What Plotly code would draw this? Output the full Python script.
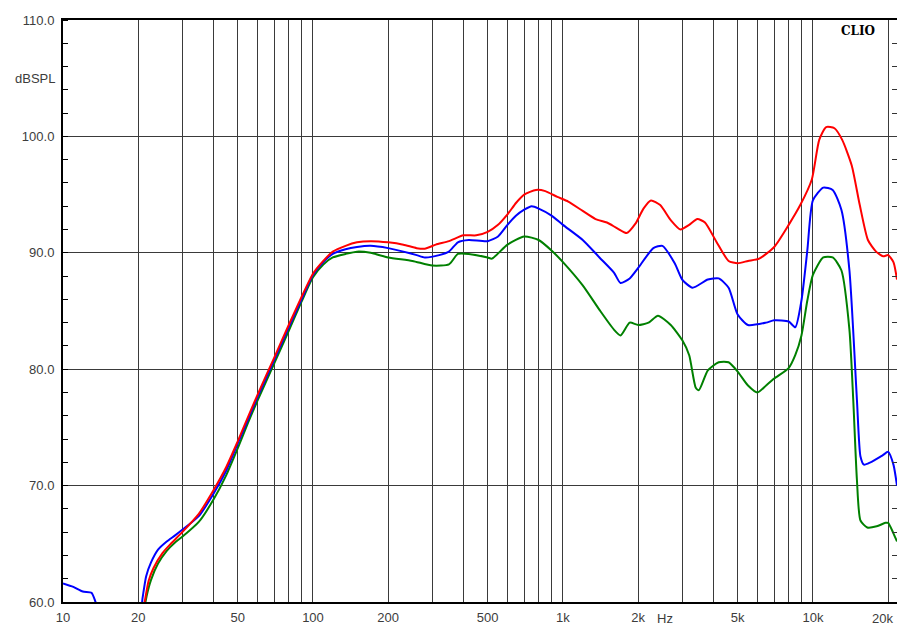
import plotly.graph_objects as go
import numpy as np

# ---- data ----
red_f = [20.5, 21.3, 22, 23, 25, 27, 30, 35, 40, 45, 50, 55, 60, 70, 80, 90, 100, 110, 120, 135, 150, 170, 200, 230, 260, 280, 310, 350, 400, 450, 500, 550, 600, 650, 700, 780, 850, 950, 1050, 1200, 1350, 1500, 1650, 1800, 1950, 2100, 2250, 2450, 2700, 2950, 3200, 3450, 3700, 4100, 4600, 5000, 5500, 6100, 7000, 8000, 8900, 9900, 10600, 11300, 12200, 13100, 14300, 15400, 16600, 17900, 19100, 20000, 21000, 21700]
red_db = [58.0, 60.2, 61.8, 62.9, 64.2, 65.0, 66.0, 67.6, 69.6, 71.6, 73.8, 75.9, 77.8, 81.0, 83.8, 86.2, 88.2, 89.3, 90.1, 90.6, 90.9, 91.0, 90.9, 90.7, 90.4, 90.35, 90.7, 91.0, 91.5, 91.5, 91.8, 92.4, 93.3, 94.3, 95.0, 95.4, 95.3, 94.8, 94.4, 93.6, 92.9, 92.6, 92.1, 91.7, 92.5, 93.8, 94.5, 94.1, 92.8, 92.0, 92.4, 92.9, 92.6, 91.0, 89.3, 89.1, 89.3, 89.5, 90.5, 92.4, 94.1, 96.3, 99.7, 100.8, 100.7, 99.7, 97.5, 94.1, 91.1, 90.1, 89.7, 89.8, 89.2, 87.7]

blue_f = [10, 11, 12, 13, 13.5, 14.5, 20.0, 20.8, 21.5, 22.5, 24, 26, 28, 30, 35, 40, 45, 50, 55, 60, 70, 80, 90, 100, 110, 120, 135, 150, 170, 200, 230, 260, 280, 320, 350, 380, 420, 500, 550, 600, 650, 700, 750, 800, 900, 1000, 1200, 1400, 1600, 1700, 1850, 2000, 2300, 2500, 2800, 3000, 3300, 3800, 4200, 4600, 5000, 5500, 6500, 7000, 8000, 8500, 9000, 9500, 10000, 11000, 12000, 13000, 14000, 15000, 15500, 16000, 17000, 19000, 20000, 21000, 21700]
blue_db = [61.6, 61.3, 60.9, 60.8, 60.0, 58.0, 58.0, 60.3, 62.2, 63.4, 64.5, 65.2, 65.7, 66.2, 67.4, 69.3, 71.3, 73.6, 75.7, 77.6, 80.8, 83.6, 86.0, 88.1, 89.2, 89.9, 90.3, 90.5, 90.6, 90.4, 90.1, 89.8, 89.6, 89.8, 90.1, 90.9, 91.1, 91.0, 91.4, 92.4, 93.2, 93.7, 94.0, 93.8, 93.2, 92.4, 91.1, 89.6, 88.3, 87.4, 87.8, 88.7, 90.4, 90.6, 89.1, 87.7, 87.0, 87.7, 87.8, 87.0, 84.7, 83.8, 84.0, 84.2, 84.1, 83.6, 85.9, 90.2, 94.5, 95.6, 95.4, 93.7, 88.5, 77.4, 72.5, 71.8, 72.0, 72.6, 72.9, 71.8, 70.0]

green_f = [20.8, 21.6, 22.5, 24, 26, 28, 30, 35, 40, 45, 50, 55, 60, 70, 80, 90, 100, 110, 120, 135, 150, 170, 200, 250, 300, 350, 380, 420, 500, 520, 600, 700, 800, 900, 1000, 1200, 1400, 1600, 1700, 1850, 2000, 2200, 2400, 2700, 3000, 3200, 3400, 3500, 3800, 4200, 4600, 5000, 5500, 6000, 6500, 7000, 8000, 8500, 9000, 9500, 10000, 11000, 12000, 13000, 14000, 14500, 15000, 15500, 16500, 18000, 19500, 20000, 21000, 21700]
green_db = [58.5, 60.5, 61.9, 63.3, 64.4, 65.1, 65.6, 66.9, 68.8, 70.9, 73.2, 75.4, 77.3, 80.5, 83.3, 85.8, 87.9, 89.0, 89.6, 89.9, 90.1, 90.0, 89.6, 89.3, 88.9, 89.0, 89.9, 89.9, 89.6, 89.5, 90.7, 91.4, 91.1, 90.2, 89.2, 87.2, 85.1, 83.4, 82.9, 84.0, 83.8, 84.0, 84.6, 83.8, 82.5, 81.2, 78.4, 78.2, 79.9, 80.6, 80.6, 79.8, 78.6, 78.0, 78.6, 79.2, 80.1, 81.2, 82.9, 85.9, 88.1, 89.6, 89.6, 88.5, 83.4, 77.4, 70.5, 67.0, 66.4, 66.5, 66.8, 66.8, 65.9, 65.2]

grid_freqs = [10, 20, 30, 40, 50, 60, 70, 80, 90, 100, 200, 300, 400, 500, 600, 700, 800, 900,
              1000, 2000, 3000, 4000, 5000, 6000, 7000, 8000, 9000, 10000, 20000]
x_labels = {10: "10", 20: "20", 50: "50", 100: "100", 200: "200", 500: "500", 1000: "1k",
            2000: "2k", 5000: "5k", 10000: "10k"}
y_ticks = [60, 70, 80, 90, 100, 110]
y_labels = ["60.0", "70.0", "80.0", "90.0", "100.0", "110.0"]

fig = go.Figure()
for f, d, c in [(green_f, green_db, "#008000"), (blue_f, blue_db, "#0000ff"), (red_f, red_db, "#ff0000")]:
    fig.add_trace(go.Scatter(x=f, y=d, mode="lines", line=dict(color=c, width=2, shape="spline", smoothing=0.6),
                             showlegend=False, hoverinfo="skip"))

fig.update_layout(
    width=898, height=626,
    margin=dict(l=63, r=1, t=20, b=24, autoexpand=False),
    paper_bgcolor="white", plot_bgcolor="white",
    font=dict(family="Liberation Sans, Arial, sans-serif", size=13, color="#3c3c3c"),
    xaxis=dict(type="log", range=[1, np.log10(21700)],
               tickvals=grid_freqs, ticktext=[x_labels.get(v, "") for v in grid_freqs],
               showgrid=True, gridcolor="#3a3a3a", gridwidth=1,
               showline=True, linecolor="black", linewidth=2, mirror=True,
               ticks="", zeroline=False, ticklabelstandoff=2, automargin=False),
    yaxis=dict(range=[60, 110], tickvals=y_ticks, ticktext=y_labels,
               showgrid=True, gridcolor="#3a3a3a", gridwidth=1,
               showline=True, linecolor="black", linewidth=2,
               ticks="", zeroline=False, ticklabelstandoff=4, automargin=False,
               minor=dict(dtick=2, ticks="inside", ticklen=5, tickcolor="black", showgrid=False)),
    yaxis2=dict(range=[60, 110], overlaying="y", side="right", showgrid=False, showline=False,
                showticklabels=False, ticks="", zeroline=False, automargin=False,
                minor=dict(dtick=2, ticks="inside", ticklen=5, tickcolor="#333", showgrid=False)),
)
fig.add_trace(go.Scatter(x=[10], y=[None], yaxis="y2", showlegend=False, hoverinfo="skip"))

fig.add_annotation(xref="paper", yref="y", x=-0.007, y=105, text="dBSPL", showarrow=False,
                   xanchor="right", yanchor="middle", font=dict(size=13, color="#3c3c3c"))
fig.add_annotation(xref="x", yref="paper", x=np.log10(2560), y=0, yshift=-16, text="Hz", showarrow=False,
                   xanchor="center", yanchor="middle", font=dict(size=13, color="#3c3c3c"))
fig.add_annotation(xref="x", yref="paper", x=np.log10(20000), y=0, yshift=-16, xshift=-6, text="20k",
                   showarrow=False, xanchor="center", yanchor="middle", font=dict(size=13, color="#3c3c3c"))
fig.add_annotation(xref="paper", yref="paper", x=0.953, y=0.981, text="<b>CLIO</b>", showarrow=False,
                   xanchor="center", yanchor="middle",
                   font=dict(family="DejaVu Serif, Liberation Serif, serif", size=12, color="black"))

fig.write_html("out.html", config={"displayModeBar": False},
               post_script="document.body.style.margin='0';document.body.style.overflow='hidden';")
